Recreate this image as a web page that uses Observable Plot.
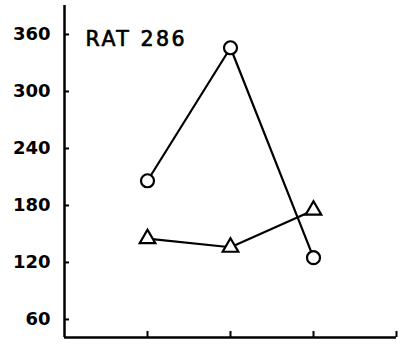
<!DOCTYPE html>
<html>
<head>
<meta charset="utf-8">
<script src="https://cdn.jsdelivr.net/npm/d3@7"></script>
<script src="https://cdn.jsdelivr.net/npm/@observablehq/plot@0.6"></script>
<style>
  html, body { margin: 0; padding: 0; background: #fff; }
  .panel-label text { letter-spacing: 2.5px; }
</style>
</head>
<body>
<div id="chart"></div>
<script>
const sessions = [1, 2, 3];
const circleValues = [206, 346, 125];
const triangleValues = [145, 136, 175];
const yTicks = [60, 120, 180, 240, 300, 360];
const xTicks = [1, 2, 3, 4];
const panelLabel = "RAT 286";

const circles = sessions.map((s, i) => ({x: s, y: circleValues[i]}));
const triangles = sessions.map((s, i) => ({x: s, y: triangleValues[i]}));

const chart = Plot.plot({
  width: 400,
  height: 344,
  marginLeft: 64,
  marginRight: 4,
  marginTop: 5,
  marginBottom: 7,
  style: {background: "#fff", color: "#000"},
  x: {domain: [0, 4]},
  y: {domain: [41, 390.5]},
  marks: [
    Plot.ruleX([0], {stroke: "#000", strokeWidth: 2.5}),
    Plot.ruleY([41], {stroke: "#000", strokeWidth: 2.5}),
    Plot.axisY({ticks: yTicks, tickSize: -5, tickFormat: () => "", label: null, strokeWidth: 2}),
    Plot.axisY({ticks: yTicks, tickSize: 0, tickPadding: 14, label: null,
      fontSize: 18, fontWeight: "bold", fontFamily: "DejaVu Sans, sans-serif"}),
    Plot.axisX({ticks: xTicks, tickSize: -6, tickFormat: () => "", label: null, strokeWidth: 2}),
    Plot.line(circles, {x: "x", y: "y", stroke: "#000", strokeWidth: 2.2}),
    Plot.line(triangles, {x: "x", y: "y", stroke: "#000", strokeWidth: 2.2}),
    Plot.dot(circles, {x: "x", y: "y", r: 6.5, symbol: "circle", fill: "#fff", stroke: "#000", strokeWidth: 2.2}),
    Plot.dot(triangles, {x: "x", y: "y", r: 5.8, symbol: "triangle", fill: "#fff", stroke: "#000", strokeWidth: 2.2}),
    Plot.text([panelLabel], {frameAnchor: "top-left", dx: 21, dy: 26, textAnchor: "start", lineAnchor: "top",
      fontSize: 20.5, fontWeight: "normal", fontFamily: "DejaVu Sans, sans-serif", fill: "#000",
      stroke: "#000", strokeWidth: 0.7, className: "panel-label"})
  ]
});
document.getElementById("chart").appendChild(chart);
</script>
</body>
</html>
